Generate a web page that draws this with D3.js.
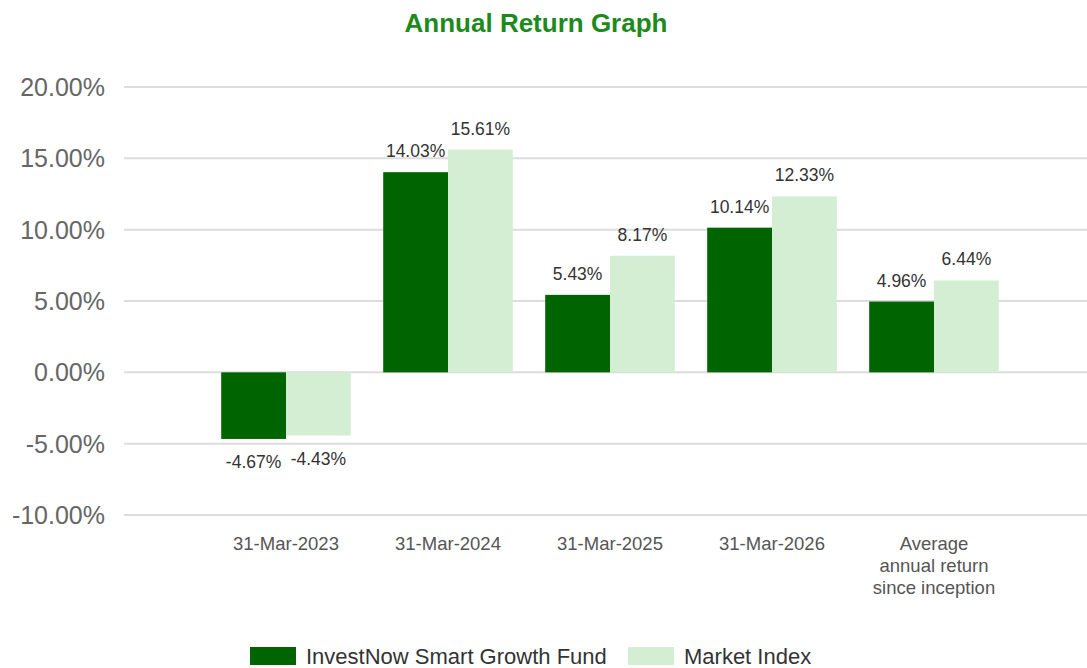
<!DOCTYPE html>
<html>
<head>
<meta charset="utf-8">
<script src="https://cdn.jsdelivr.net/npm/d3@7"></script>
<style>
  body { margin: 0; background: #fff; }
  svg { font-family: "Liberation Sans", Arial, sans-serif; }
</style>
</head>
<body>
<svg id="chart" width="1087" height="668"></svg>
<script>
// categories along the x axis (multi-line labels split on \n)
const categories = ["31-Mar-2023", "31-Mar-2024", "31-Mar-2025", "31-Mar-2026", "Average\nannual return\nsince inception"];
const seriesNames = ["InvestNow Smart Growth Fund", "Market Index"];
const fundValues = [-4.67, 14.03, 5.43, 10.14, 4.96];
const indexValues = [-4.43, 15.61, 8.17, 12.33, 6.44];
const yTicks = [-10, -5, 0, 5, 10, 15, 20];
const colors = ["#006400", "#d3eed3"];

let svg = d3.select("#chart");

// Title
svg.append("text")
    .attr("x", 536).attr("y", 32)
    .attr("text-anchor", "middle")
    .attr("font-size", "26px")
    .attr("font-weight", "bold")
    .attr("fill", "#1d8a1d")
    .text("Annual Return Graph");

let y = d3.scaleLinear().domain([-10, 20]).range([515, 87]);
let x = d3.scaleBand().domain(categories).range([205, 1015]).paddingInner(0.2).paddingOuter(0.1);
let xs = d3.scaleBand().domain(seriesNames).range([0, x.bandwidth()]);

// gridlines
svg.append("g").selectAll("line")
    .data(yTicks).enter()
    .append("line")
    .attr("x1", 124).attr("x2", 1087)
    .attr("y1", d => y(d)).attr("y2", d => y(d))
    .attr("stroke", "#dcdcdc")
    .attr("stroke-width", 2);

// y axis labels
svg.append("g").selectAll("text")
    .data(yTicks).enter()
    .append("text")
    .attr("x", 105).attr("y", d => y(d) + 9)
    .attr("text-anchor", "end")
    .attr("font-size", "25px")
    .attr("fill", "#666")
    .text(d => d.toFixed(2) + "%");

// build rows for each bar
let rows = [];
categories.forEach((c, i) => {
    rows.push({cat: c, series: seriesNames[0], value: fundValues[i], color: colors[0]});
    rows.push({cat: c, series: seriesNames[1], value: indexValues[i], color: colors[1]});
});

let bars = svg.append("g").selectAll("g")
    .data(rows).enter()
    .append("g");

bars.append("rect")
    .attr("x", d => x(d.cat) + xs(d.series))
    .attr("width", xs.bandwidth())
    .attr("y", d => y(Math.max(0, d.value)))
    .attr("height", d => Math.abs(y(d.value) - y(0)))
    .attr("fill", d => d.color);

bars.append("text")
    .attr("x", d => x(d.cat) + xs(d.series) + xs.bandwidth() / 2)
    .attr("y", d => d.value >= 0 ? y(d.value) - 15 : y(d.value) + 29)
    .attr("text-anchor", "middle")
    .attr("font-size", "17.5px")
    .attr("fill", "#333")
    .text(d => d.value.toFixed(2) + "%");

// x axis labels
let xl = svg.append("g").selectAll("text")
    .data(categories).enter()
    .append("text")
    .attr("x", d => x(d) + x.bandwidth() / 2)
    .attr("y", 550)
    .attr("text-anchor", "middle")
    .attr("font-size", "18.5px")
    .attr("fill", "#555");
xl.each(function(d) {
    let t = d3.select(this);
    d.split("\n").forEach((line, i) => {
        t.append("tspan")
            .attr("x", x(d) + x.bandwidth() / 2)
            .attr("dy", i === 0 ? 0 : 22)
            .text(line);
    });
});

// legend
let legendX = [250, 628];
let lg = svg.append("g").selectAll("g")
    .data(seriesNames).enter()
    .append("g")
    .attr("transform", (d, i) => "translate(" + legendX[i] + ",647)");
lg.append("rect")
    .attr("width", 46).attr("height", 18)
    .attr("fill", (d, i) => colors[i]);
lg.append("text")
    .attr("x", 56).attr("y", 17)
    .attr("font-size", "22px")
    .attr("fill", "#333")
    .text(d => d);
</script>
</body>
</html>
